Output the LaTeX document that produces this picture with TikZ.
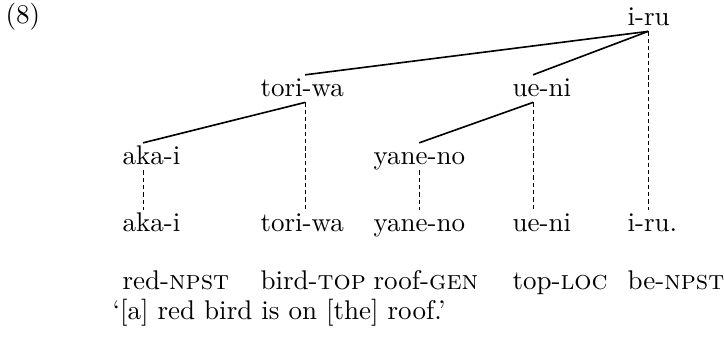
\documentclass[tikz,border=0pt]{standalone}
\usepackage{tikz}

\begin{document}
\begin{tikzpicture}[x=0.37pt,y=-0.37pt,
    wd/.style={anchor=base west,inner sep=0pt,text height=8pt,text depth=1.8pt},
    gl/.style={anchor=base west,inner sep=0pt},
    br/.style={line width=0.6pt},
    tr/.style={line width=0.4pt,dash pattern=on 1.6pt off 1.1pt}]
      \useasboundingbox (0,0) rectangle (724,343);
      \node[gl] (ex) at (5,24) {(8)};
      % tree
      \node[wd] (iru) at (627,26) {i-ru};
      \node[wd] (toriwa) at (260,97) {tori-wa};
      \node[wd] (ueni) at (512,97) {ue-ni};
      \node[wd] (akai) at (122,165) {aka-i};
      \node[wd] (yaneno) at (373,165) {yane-no};
      % words
      \node[wd] (akaiB) at (122,232) {aka-i};
      \node[wd] (toriwaB) at (260,232) {tori-wa};
      \node[wd] (yanenoB) at (373,232) {yane-no};
      \node[wd] (ueniB) at (512,232) {ue-ni};
      \node[wd] (iruB) at (627,232) {i-ru.};
      % glosses
      \node[gl] (g1) at (122,290) {red-\textsc{npst}};
      \node[gl] (g2) at (260,290) {bird-\textsc{top}};
      \node[gl] (g3) at (373,290) {roof-\textsc{gen}};
      \node[gl] (g4) at (512,290) {top-\textsc{loc}};
      \node[gl] (g5) at (627,290) {be-\textsc{npst}};
      \node[gl] (trans) at (112,320) {`[a] red bird is on [the] roof.'};
      % branches
      \draw[br] ([xshift=7.8pt]iru.south west)--([xshift=16.7pt]toriwa.north west);
      \draw[br] ([xshift=7.8pt]iru.south west)--([xshift=7.8pt]ueni.north west);
      \draw[br] ([xshift=16.7pt]toriwa.south west)--([xshift=7.8pt]akai.north west);
      \draw[br] ([xshift=7.8pt]ueni.south west)--([xshift=17.1pt]yaneno.north west);
      % traces
      \draw[tr] ([xshift=7.8pt]akai.south west)--([xshift=7.8pt]akaiB.north west);
      \draw[tr] ([xshift=16.7pt]toriwa.south west)--([xshift=16.7pt]toriwaB.north west);
      \draw[tr] ([xshift=17.1pt]yaneno.south west)--([xshift=17.1pt]yanenoB.north west);
      \draw[tr] ([xshift=7.8pt]ueni.south west)--([xshift=7.8pt]ueniB.north west);
      \draw[tr] ([xshift=7.8pt]iru.south west)--([xshift=7.8pt]iruB.north west);
\end{tikzpicture}
\end{document}
